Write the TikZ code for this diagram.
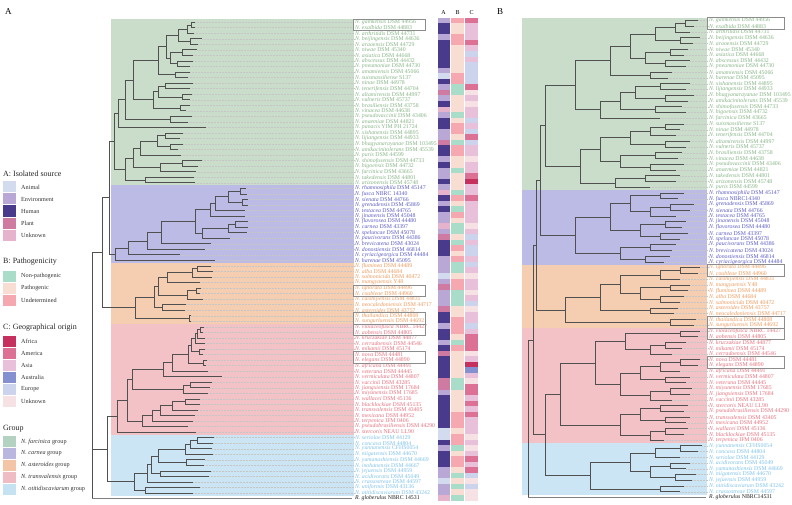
\documentclass[tikz,border=0pt]{standalone}
\usepackage{fontspec}
\setmainfont{Liberation Serif}
\usetikzlibrary{calc}
\definecolor{treec}{HTML}{505050}
\definecolor{bandG}{HTML}{CADCCA}
\definecolor{bandB}{HTML}{BBBBE6}
\definecolor{bandO}{HTML}{F5CEB2}
\definecolor{bandP}{HTML}{F3C2C6}
\definecolor{bandL}{HTML}{CBE5F4}
\definecolor{txG}{HTML}{86B486}
\definecolor{txB}{HTML}{5C5CC4}
\definecolor{txO}{HTML}{EE9A5C}
\definecolor{txP}{HTML}{E6717E}
\definecolor{txL}{HTML}{7FC2EA}
\definecolor{txK}{HTML}{222222}
\definecolor{lgG}{HTML}{B4D2C2}
\definecolor{lgB}{HTML}{B9B7E0}
\definecolor{lgO}{HTML}{F3C4A6}
\definecolor{lgP}{HTML}{F0BCC3}
\definecolor{lgL}{HTML}{C5E2F3}
\definecolor{sa}{HTML}{D3DCEF}
\definecolor{se}{HTML}{B9A8D6}
\definecolor{sh}{HTML}{4A3A8C}
\definecolor{sp}{HTML}{CF7AA0}
\definecolor{su}{HTML}{E6B3CD}
\definecolor{pn}{HTML}{A9DCC9}
\definecolor{pp}{HTML}{F8DDD2}
\definecolor{pu}{HTML}{F5A8B0}
\definecolor{gF}{HTML}{C6305F}
\definecolor{gM}{HTML}{DC7095}
\definecolor{gS}{HTML}{E8C0DA}
\definecolor{gO}{HTML}{8590D0}
\definecolor{gE}{HTML}{CCD3EC}
\definecolor{gU}{HTML}{F6E1E5}
\newcommand\cl[4]{%
  \coordinate (tmpm) at ($(#3)!0.5!(#4)$);
  \coordinate (tmpx) at (#2,0);
  \coordinate (#1) at (tmpm -| tmpx);
  \draw[br] (#3) -- (#3 -| #1) -- (#4 -| #1) -- (#4);}
\newcommand\TA[2]{\coordinate (a#1) at (#2,{22.1+(#1-1)*5.54});
  \draw[lead] (a#1) -- (354,{22.1+(#1-1)*5.54});}
\newcommand\TB[2]{\coordinate (b#1) at (#2,{20.5+(#1-1)*5.747});
  \draw[lead] (b#1) -- (708,{20.5+(#1-1)*5.747});}
\newcommand\LA[4]{\node[lab,text=#2] (la#1) at (355,{22.1+(#1-1)*5.54}) {\textit{#3} #4};}
\newcommand\LB[4]{\node[lab,text=#2] (lb#1) at (709,{20.5+(#1-1)*5.747}) {\textit{#3} #4};}
\newcommand\BoxA[1]{\draw[pairbox] (353.5,{22.1+(#1-1)*5.54-3}) rectangle (425,{22.1+#1*5.54+3});}
\newcommand\BoxB[1]{\draw[pairbox] (707.5,{20.5+(#1-1)*5.747-3}) rectangle (784,{20.5+#1*5.747+3});}
\newcommand\LegItem[3]{\fill[#1] (3,{#2-5.5}) rectangle (16,{#2+5.5});
  \node[legtext] at (21,#2) {#3};}
\begin{document}
\begin{tikzpicture}[x=1pt,y=-1pt,
  br/.style={draw=treec,line width=0.6pt},
  lead/.style={draw=white!55!gray,line width=0.3pt,dash pattern=on 0.5pt off 1pt},
  lab/.style={anchor=west,inner sep=0pt,font=\fontsize{5.8}{5.8}\selectfont},
  pairbox/.style={draw=gray!90,line width=0.5pt},
  legtext/.style={anchor=west,inner sep=0pt,font=\fontsize{6.2}{7}\selectfont,text=black!80},
  legtitle/.style={anchor=west,inner sep=0pt,font=\fontsize{8}{9}\selectfont,text=black!85},
  panel/.style={anchor=west,inner sep=0pt,font=\fontsize{9}{10}\selectfont}]
\useasboundingbox (0,0) rectangle (792,505);
\fill[white] (0,0) rectangle (792,505);
% panel letters
\node[panel] (pA) at (5,12) {A};
\node[panel] (pB) at (497,12) {B};
% ---------------- legend
\node[legtitle] (t1) at (3,174) {A: Isolated source};
\LegItem{sa}{187}{Animal}
\LegItem{se}{199}{Environment}
\LegItem{sh}{211}{Human}
\LegItem{sp}{223}{Plant}
\LegItem{su}{235}{Unknown}
\node[legtitle] (t2) at (3,262) {B: Pathogenicity};
\LegItem{pn}{276.5}{Non-pathogenic}
\LegItem{pp}{288.5}{Pathogenic}
\LegItem{pu}{300.5}{Undetermined}
\node[legtitle] (t3) at (3,328) {C: Geographical origin};
\LegItem{gF}{341.5}{Africa}
\LegItem{gM}{353.5}{America}
\LegItem{gS}{365.5}{Asia}
\LegItem{gO}{377.5}{Australia}
\LegItem{gE}{389.5}{Europe}
\LegItem{gU}{401.5}{Unknown}
\node[legtitle] (t4) at (3,429) {Group};
\LegItem{lgG}{441.5}{\textit{N. farcinica} group}
\LegItem{lgB}{453.5}{\textit{N. carnea} group}
\LegItem{lgO}{465.5}{\textit{N. asteroides} group}
\LegItem{lgP}{477.5}{\textit{N. transvalensis} group}
\LegItem{lgL}{489.5}{\textit{N. otitidiscaviarum} group}
% ---------------- bands A
\fill[bandG] (111,19.3) rectangle (354,185.5);
\fill[bandB] (111,185.5) rectangle (354,263.1);
\fill[bandO] (111,263.1) rectangle (354,324);
\fill[bandP] (111,324) rectangle (354,434.8);
\fill[bandL] (111,434.8) rectangle (354,495.8);
% ---------------- bands B
\fill[bandG] (522,17.6) rectangle (707,190.0);
\fill[bandB] (522,190.0) rectangle (707,264.7);
\fill[bandO] (522,264.7) rectangle (707,327.9);
\fill[bandP] (522,327.9) rectangle (707,442.9);
\fill[bandL] (522,442.9) rectangle (707,494.6);
% ---------------- tips A
\foreach \r/\x in {1/195,2/195,3/194,4/202,5/198,6/197,7/193,8/193,9/190,10/190,11/188,12/193,13/190,14/192,15/190,16/190,17/186,18/192,19/188,20/206,
 21/183,22/180,23/183,24/178,25/181,26/202,27/198,28/196,29/194,30/195,
 31/246,32/247,33/248,34/248,35/245,36/245,37/248,38/248,39/247,40/230,41/211,42/205,43/180,44/215,
 45/211,46/213,47/212,48/200,49/201,50/200,51/203,52/186,53/185,54/191,55/191,
 56/204,57/203,58/205,59/205,60/205,61/203,62/207,63/206,64/208,65/222,66/212,67/210,68/208,69/200,70/200,71/198,72/195,73/193,74/188,75/196,
 76/214,77/213,78/212,79/213,80/205,81/204,82/211,83/209,84/193,85/200,86/193}{\TA{\r}{\x}}
\coordinate (a87) at (352,498.5);
% tree A: farcinica group
\cl{Ag1}{191}{a1}{a2}\cl{Ag2}{187}{Ag1}{a3}\cl{Ag3}{190}{a4}{a5}\cl{Ag4}{178}{Ag2}{Ag3}
\cl{Ag5}{182}{a6}{a7}\cl{Ag6}{177}{a8}{a9}\cl{Ag7}{170}{Ag5}{Ag6}\cl{Ag8}{166}{Ag4}{Ag7}
\cl{Ag9}{175}{a10}{a11}\cl{Ag10}{158}{Ag8}{Ag9}
\cl{Ag11}{165}{a12}{a13}\cl{Ag12}{182}{a14}{a15}\cl{Ag13}{158}{Ag11}{Ag12}
\cl{Ag14}{180}{a16}{a17}\cl{Ag15}{153}{Ag13}{Ag14}\cl{Ag16}{133}{Ag10}{Ag15}
\cl{Ag17}{170}{a18}{a19}\cl{Ag18}{125}{Ag16}{Ag17}\cl{Ag19}{118}{Ag18}{a20}
\cl{Ag20}{165}{a21}{a22}\cl{Ag21}{170}{a23}{a24}\cl{Ag22}{157}{Ag20}{Ag21}\cl{Ag23}{140}{Ag22}{a25}
\cl{Ag24}{182}{a26}{a27}\cl{Ag25}{160}{Ag24}{a28}\cl{Ag26}{133}{Ag23}{Ag25}
\cl{Ag27}{145}{a29}{a30}\cl{Ag28}{125}{Ag26}{Ag27}
\cl{AG}{114}{Ag19}{Ag28}
% carnea group
\cl{Ab1}{240}{a31}{a32}\cl{Ab2}{242}{a33}{a34}\cl{Ab3}{228}{Ab1}{Ab2}\cl{Ab4}{215}{Ab3}{a35}
\cl{Ab5}{210}{Ab4}{a36}\cl{Ab6}{235}{a37}{a38}\cl{Ab7}{228}{Ab6}{a39}\cl{Ab8}{202}{Ab7}{a40}
\cl{Ab9}{195}{Ab5}{Ab8}\cl{Ab10}{161}{Ab9}{a41}\cl{Ab11}{147}{Ab10}{a42}\cl{Ab12}{128}{Ab11}{a43}
\cl{AB}{115}{Ab12}{a44}
% asteroides group
\cl{Ao1}{197}{a45}{a46}\cl{Ao2}{192}{Ao1}{a47}\cl{Ao3}{167}{Ao2}{a48}
\cl{Ao4}{196}{a49}{a50}\cl{Ao5}{187}{Ao4}{a51}\cl{Ao6}{158}{Ao3}{Ao5}
\cl{Ao7}{162}{a52}{a53}\cl{Ao8}{154}{Ao6}{Ao7}\cl{Ao9}{189}{a54}{a55}\cl{AO}{135}{Ao8}{Ao9}
% transvalensis group
\cl{Ap1}{200}{a56}{a57}\cl{Ap2}{197}{Ap1}{a58}\cl{Ap3}{195}{Ap2}{a59}\cl{Ap4}{199}{a60}{a61}
\cl{Ap5}{191}{Ap3}{Ap4}\cl{Ap6}{203}{a62}{a63}\cl{Ap7}{188}{Ap5}{Ap6}\cl{Ap8}{172}{Ap7}{a64}
\cl{Ap9}{163}{Ap8}{a65}\cl{Ap10}{190}{a66}{a67}\cl{Ap11}{183}{Ap10}{a68}\cl{Ap12}{132}{Ap9}{Ap11}
\cl{Ap13}{185}{a69}{a70}\cl{Ap14}{172}{Ap13}{a71}\cl{Ap15}{160}{Ap14}{a72}\cl{Ap16}{152}{Ap15}{a73}
\cl{Ap17}{142}{Ap16}{a74}\cl{Ap18}{127}{Ap12}{Ap17}\cl{AP}{117}{Ap18}{a75}
% otitidiscaviarum group
\cl{Al1}{197}{a76}{a77}\cl{Al2}{190}{Al1}{a78}\cl{Al3}{185}{Al2}{a79}\cl{Al4}{186}{a80}{a81}
\cl{Al5}{158}{Al3}{Al4}\cl{Al6}{160}{a82}{a83}\cl{Al7}{151}{Al5}{Al6}\cl{Al8}{147}{Al7}{a84}
\cl{Al9}{145}{a85}{a86}\cl{AL}{134}{Al8}{Al9}
% backbone A
\cl{AGB}{109}{AG}{AB}\cl{AUP}{102}{AGB}{AO}\cl{APL}{107}{AP}{AL}
\coordinate (AR) at (92,0);
\draw[br] (AUP) -- (AUP -| AR) -- (a87 -| AR);
\draw[br] (APL) -- (APL -| AR);
\draw[draw=gray,line width=1pt] (a87 -| AR) -- (a87);
% ---------------- tips B
\foreach \r/\x in {1/698,2/694,3/690,4/700,5/693,6/688,7/684,8/690,9/686,10/672,11/668,12/690,13/686,14/694,15/688,16/682,17/686,18/660,19/684,20/680,21/676,22/690,23/686,24/682,25/678,26/684,27/676,28/680,29/676,30/650,
 31/684,32/678,33/694,34/690,35/676,36/686,37/682,38/688,39/680,40/676,41/672,42/670,43/664,
 44/700,45/698,46/680,47/690,48/688,49/684,50/680,51/678,52/674,53/696,54/694,
 55/700,56/698,57/686,58/682,59/672,60/700,61/698,62/680,63/690,64/686,65/692,66/690,67/672,68/688,69/684,70/690,71/686,72/688,73/684,74/664,
 75/702,76/698,77/680,78/690,79/686,80/696,81/692,82/684,83/680}{\TB{\r}{\x}}
\coordinate (b84) at (706,{20.5+83*5.747});
\cl{Bg1}{685}{b1}{b2}\cl{Bg2}{675}{Bg1}{b3}\cl{Bg3}{680}{b4}{b5}\cl{Bg4}{655}{Bg2}{Bg3}
\cl{Bg5}{670}{b6}{b7}\cl{Bg6}{665}{b8}{b9}\cl{Bg7}{645}{Bg5}{Bg6}\cl{Bg8}{630}{Bg4}{Bg7}
\cl{Bg9}{650}{b10}{b11}\cl{Bg10}{610}{Bg8}{Bg9}
\cl{Bg11}{660}{b12}{b13}\cl{Bg12}{665}{b14}{b15}\cl{Bg13}{635}{Bg11}{Bg12}\cl{Bg14}{655}{b16}{b17}
\cl{Bg15}{620}{Bg13}{Bg14}\cl{Bg16}{600}{Bg15}{b18}\cl{Bg17}{575}{Bg10}{Bg16}
\cl{Bg18}{665}{b19}{b20}\cl{Bg19}{650}{Bg18}{b21}\cl{Bg20}{665}{b22}{b23}\cl{Bg21}{630}{Bg19}{Bg20}
\cl{Bg22}{655}{b24}{b25}\cl{Bg23}{650}{b26}{b27}\cl{Bg24}{620}{Bg22}{Bg23}\cl{Bg25}{600}{Bg21}{Bg24}
\cl{Bg26}{645}{b28}{b29}\cl{Bg27}{615}{Bg26}{b30}\cl{Bg28}{580}{Bg25}{Bg27}\cl{BG}{545}{Bg17}{Bg28}
\cl{Bc1}{660}{b31}{b32}\cl{Bc2}{670}{b33}{b34}\cl{Bc3}{650}{Bc2}{b35}\cl{Bc4}{630}{Bc1}{Bc3}
\cl{Bc5}{665}{b36}{b37}\cl{Bc6}{660}{b38}{b39}\cl{Bc7}{640}{Bc5}{Bc6}\cl{Bc8}{610}{Bc4}{Bc7}
\cl{Bc9}{650}{b40}{b41}\cl{Bc10}{645}{b42}{b43}\cl{Bc11}{620}{Bc9}{Bc10}\cl{BC}{575}{Bc8}{Bc11}
\cl{Bo1}{680}{b44}{b45}\cl{Bo2}{660}{Bo1}{b46}\cl{Bo3}{670}{b47}{b48}\cl{Bo4}{660}{b49}{b50}
\cl{Bo5}{640}{Bo3}{Bo4}\cl{Bo6}{620}{Bo2}{Bo5}\cl{Bo7}{650}{b51}{b52}\cl{Bo8}{600}{Bo6}{Bo7}
\cl{Bo9}{670}{b53}{b54}\cl{BO}{565}{Bo8}{Bo9}
\cl{Bp1}{680}{b55}{b56}\cl{Bp2}{665}{b57}{b58}\cl{Bp3}{650}{Bp2}{b59}\cl{Bp4}{625}{Bp1}{Bp3}
\cl{Bp5}{680}{b60}{b61}\cl{Bp6}{660}{Bp5}{b62}\cl{Bp7}{665}{b63}{b64}\cl{Bp8}{640}{Bp6}{Bp7}
\cl{Bp9}{670}{b65}{b66}\cl{Bp10}{650}{Bp9}{b67}\cl{Bp11}{620}{Bp8}{Bp10}\cl{Bp12}{595}{Bp4}{Bp11}
\cl{Bp13}{660}{b68}{b69}\cl{Bp14}{665}{b70}{b71}\cl{Bp15}{640}{Bp13}{Bp14}\cl{Bp16}{665}{b72}{b73}
\cl{Bp17}{650}{Bp16}{b74}\cl{Bp18}{620}{Bp15}{Bp17}\cl{BP}{560}{Bp12}{Bp18}
\cl{Bl1}{680}{b75}{b76}\cl{Bl2}{655}{Bl1}{b77}\cl{Bl3}{670}{b78}{b79}\cl{Bl4}{675}{b80}{b81}
\cl{Bl5}{650}{Bl3}{Bl4}\cl{Bl6}{630}{Bl2}{Bl5}\cl{Bl7}{660}{b82}{b83}\cl{BL}{590}{Bl6}{Bl7}
\cl{BGC}{540}{BG}{BC}\cl{BGCO}{536}{BGC}{BO}\cl{BPL}{545}{BP}{BL}
\cl{BING}{533}{BGCO}{BPL}\cl{BROOT}{528}{BING}{b84}
% ---------------- labels A
\LA{1}{txG}{N. gamkensis}{DSM 44956}
\LA{2}{txG}{N. exalbida}{DSM 44883}
\LA{3}{txG}{N. arthritidis}{DSM 44731}
\LA{4}{txG}{N. beijingensis}{DSM 44636}
\LA{5}{txG}{N. araoensis}{DSM 44729}
\LA{6}{txG}{N. niwae}{DSM 45340}
\LA{7}{txG}{N. asiatica}{DSM 44668}
\LA{8}{txG}{N. abscessus}{DSM 44432}
\LA{9}{txG}{N. pneumoniae}{DSM 44730}
\LA{10}{txG}{N. amamiensis}{DSM 45066}
\LA{11}{txG}{N. suismassiliense}{S137}
\LA{12}{txG}{N. ninae}{DSM 44978}
\LA{13}{txG}{N. tenerifensis}{DSM 44704}
\LA{14}{txG}{N. altamirensis}{DSM 44997}
\LA{15}{txG}{N. vulneris}{DSM 45737}
\LA{16}{txG}{N. brasiliensis}{DSM 43758}
\LA{17}{txG}{N. vinacea}{DSM 44638}
\LA{18}{txG}{N. pseudovaccinii}{DSM 43406}
\LA{19}{txG}{N. anaemiae}{DSM 44821}
\LA{20}{txG}{N. panacis}{YIM PH 21724}
\LA{21}{txG}{N. xishanensis}{DSM 44895}
\LA{22}{txG}{N. lijiangensis}{DSM 44933}
\LA{23}{txG}{N. bhagyanarayanae}{DSM 103495}
\LA{24}{txG}{N. amikacinitolerans}{DSM 45539}
\LA{25}{txG}{N. puris}{DSM 44599}
\LA{26}{txG}{N. shimofusensis}{DSM 44733}
\LA{27}{txG}{N. higoensis}{DSM 44732}
\LA{28}{txG}{N. farcinica}{DSM 43665}
\LA{29}{txG}{N. takedensis}{DSM 44801}
\LA{30}{txG}{N. arizonensis}{DSM 45748}
\LA{31}{txB}{N. rhamnosiphila}{DSM 45147}
\LA{32}{txB}{N. fusca}{NBRC 14340}
\LA{33}{txB}{N. sienata}{DSM 44766}
\LA{34}{txB}{N. grenadensis}{DSM 45869}
\LA{35}{txB}{N. testacea}{DSM 44765}
\LA{36}{txB}{N. jinanensis}{DSM 45048}
\LA{37}{txB}{N. flavorosea}{DSM 44480}
\LA{38}{txB}{N. carnea}{DSM 43397}
\LA{39}{txB}{N. speluncae}{DSM 45078}
\LA{40}{txB}{N. paucivorans}{DSM 44386}
\LA{41}{txB}{N. brevicatena}{DSM 43024}
\LA{42}{txB}{N. donostiensis}{DSM 46814}
\LA{43}{txB}{N. cyriacigeorgica}{DSM 44484}
\LA{44}{txB}{N. harenae}{DSM 45095}
\LA{45}{txO}{N. fluminea}{DSM 44489}
\LA{46}{txO}{N. alba}{DSM 44684}
\LA{47}{txO}{N. salmonicida}{DSM 40472}
\LA{48}{txO}{N. mangyaensis}{Y48}
\LA{49}{txO}{N. ignorata}{DSM 44496}
\LA{50}{txO}{N. coubleae}{DSM 44960}
\LA{51}{txO}{N. caishijiensis}{DSM 44831}
\LA{52}{txO}{N. neocaledoniensis}{DSM 44717}
\LA{53}{txO}{N. asteroides}{DSM 43757}
\LA{54}{txO}{N. thailandica}{DSM 44808}
\LA{55}{txO}{N. sungurluensis}{DSM 44692}
\LA{56}{txP}{N. violaceofusca}{NBRC 14427}
\LA{57}{txP}{N. aobensis}{DSM 44805}
\LA{58}{txP}{N. kruczakiae}{DSM 44877}
\LA{59}{txP}{N. cerradoensis}{DSM 44546}
\LA{60}{txP}{N. mikamii}{DSM 45174}
\LA{61}{txP}{N. nova}{DSM 44481}
\LA{62}{txP}{N. elegans}{DSM 44890}
\LA{63}{txP}{N. africana}{DSM 44491}
\LA{64}{txP}{N. veterana}{DSM 44445}
\LA{65}{txP}{N. vermiculata}{DSM 44807}
\LA{66}{txP}{N. vaccinii}{DSM 43285}
\LA{67}{txP}{N. jiangxiensis}{DSM 17684}
\LA{68}{txP}{N. miyunensis}{DSM 17685}
\LA{69}{txP}{N. wallacei}{DSM 45136}
\LA{70}{txP}{N. blacklockiae}{DSM 45135}
\LA{71}{txP}{N. transvalensis}{DSM 43405}
\LA{72}{txP}{N. mexicana}{DSM 44952}
\LA{73}{txP}{N. terpenica}{IFM 0406}
\LA{74}{txP}{N. pseudobrasiliensis}{DSM 44290}
\LA{75}{txP}{N. stercoris}{NEAU LL90}
\LA{76}{txL}{N. seriolae}{DSM 44129}
\LA{77}{txL}{N. concava}{DSM 44804}
\LA{78}{txL}{N. yunnanensis}{CFHS0054}
\LA{79}{txL}{N. niigatensis}{DSM 44670}
\LA{80}{txL}{N. yamanashiensis}{DSM 44669}
\LA{81}{txL}{N. inohanensis}{DSM 44667}
\LA{82}{txL}{N. jejuensis}{DSM 44959}
\LA{83}{txL}{N. acidivorans}{DSM 45049}
\LA{84}{txL}{N. crassostreae}{DSM 44597}
\LA{85}{txL}{N. uniformis}{DSM 43136}
\LA{86}{txL}{N. otitidiscaviarum}{DSM 43242}
\node[lab,text=txK] (la87) at (355,498.5) {\textit{R. globerulus} NBRC 14531};
% ---------------- labels B
\LB{1}{txG}{N. gamkensis}{DSM 44956}
\LB{2}{txG}{N. exalbida}{DSM 44883}
\LB{3}{txG}{N. arthritidis}{DSM 44731}
\LB{4}{txG}{N. beijingensis}{DSM 44636}
\LB{5}{txG}{N. araoensis}{DSM 44729}
\LB{6}{txG}{N. niwae}{DSM 45340}
\LB{7}{txG}{N. asiatica}{DSM 44668}
\LB{8}{txG}{N. abscessus}{DSM 44432}
\LB{9}{txG}{N. pneumoniae}{DSM 44730}
\LB{10}{txG}{N. amamiensis}{DSM 45066}
\LB{11}{txG}{N. harenae}{DSM 45095}
\LB{12}{txG}{N. xishanensis}{DSM 44895}
\LB{13}{txG}{N. lijiangensis}{DSM 44933}
\LB{14}{txG}{N. bhagyanarayanae}{DSM 103495}
\LB{15}{txG}{N. amikacinitolerans}{DSM 45539}
\LB{16}{txG}{N. shimofusensis}{DSM 44733}
\LB{17}{txG}{N. higoensis}{DSM 44732}
\LB{18}{txG}{N. farcinica}{DSM 43665}
\LB{19}{txG}{N. suismassiliense}{S137}
\LB{20}{txG}{N. ninae}{DSM 44978}
\LB{21}{txG}{N. tenerifensis}{DSM 44704}
\LB{22}{txG}{N. altamirensis}{DSM 44997}
\LB{23}{txG}{N. vulneris}{DSM 45737}
\LB{24}{txG}{N. brasiliensis}{DSM 43758}
\LB{25}{txG}{N. vinacea}{DSM 44638}
\LB{26}{txG}{N. pseudovaccinii}{DSM 43406}
\LB{27}{txG}{N. anaemiae}{DSM 44821}
\LB{28}{txG}{N. takedensis}{DSM 44801}
\LB{29}{txG}{N. arizonensis}{DSM 45748}
\LB{30}{txG}{N. puris}{DSM 44599}
\LB{31}{txB}{N. rhamnosiphila}{DSM 45147}
\LB{32}{txB}{N. fusca}{NBRC14340}
\LB{33}{txB}{N. grenadensis}{DSM 45869}
\LB{34}{txB}{N. sienata}{DSM 44766}
\LB{35}{txB}{N. testacea}{DSM 44765}
\LB{36}{txB}{N. jinanensis}{DSM 45048}
\LB{37}{txB}{N. flavorosea}{DSM 44480}
\LB{38}{txB}{N. carnea}{DSM 43397}
\LB{39}{txB}{N. speluncae}{DSM 45078}
\LB{40}{txB}{N. paucivorans}{DSM 44386}
\LB{41}{txB}{N. brevicatena}{DSM 43024}
\LB{42}{txB}{N. donostiensis}{DSM 46814}
\LB{43}{txB}{N. cyriacigeorgica}{DSM 44484}
\LB{44}{txO}{N. ignorata}{DSM 44496}
\LB{45}{txO}{N. coubleae}{DSM 44960}
\LB{46}{txO}{N. caishijiensis}{DSM 44831}
\LB{47}{txO}{N. mangyaensis}{Y48}
\LB{48}{txO}{N. fluminea}{DSM 44489}
\LB{49}{txO}{N. alba}{DSM 44684}
\LB{50}{txO}{N. salmonicida}{DSM 40472}
\LB{51}{txO}{N. asteroides}{DSM 43757}
\LB{52}{txO}{N. neocaledoniensis}{DSM 44717}
\LB{53}{txO}{N. thailandica}{DSM 44808}
\LB{54}{txO}{N. sungurluensis}{DSM 44692}
\LB{55}{txP}{N. violaceofusca}{NBRC 14427}
\LB{56}{txP}{N. aobensis}{DSM 44805}
\LB{57}{txP}{N. kruczakiae}{DSM 44877}
\LB{58}{txP}{N. mikamii}{DSM 45174}
\LB{59}{txP}{N. cerradoensis}{DSM 44546}
\LB{60}{txP}{N. nova}{DSM 44481}
\LB{61}{txP}{N. elegans}{DSM 44890}
\LB{62}{txP}{N. africana}{DSM 44491}
\LB{63}{txP}{N. vermiculata}{DSM 44807}
\LB{64}{txP}{N. veterana}{DSM 44445}
\LB{65}{txP}{N. miyunensis}{DSM 17685}
\LB{66}{txP}{N. jiangxiensis}{DSM 17684}
\LB{67}{txP}{N. vaccinii}{DSM 43285}
\LB{68}{txP}{N. stercoris}{NEAU LL90}
\LB{69}{txP}{N. pseudobrasiliensis}{DSM 44290}
\LB{70}{txP}{N. transvalensis}{DSM 43405}
\LB{71}{txP}{N. mexicana}{DSM 44952}
\LB{72}{txP}{N. wallacei}{DSM 45136}
\LB{73}{txP}{N. blacklockiae}{DSM 45135}
\LB{74}{txP}{N. terpenica}{IFM 0406}
\LB{75}{txL}{N. yunnanensis}{CFHS0054}
\LB{76}{txL}{N. concava}{DSM 44804}
\LB{77}{txL}{N. seriolae}{DSM 44129}
\LB{78}{txL}{N. acidivorans}{DSM 45049}
\LB{79}{txL}{N. yamanashiensis}{DSM 44669}
\LB{80}{txL}{N. niigatensis}{DSM 44670}
\LB{81}{txL}{N. jejuensis}{DSM 44959}
\LB{82}{txL}{N. otitidiscaviarum}{DSM 43242}
\LB{83}{txL}{N. crassostreae}{DSM 44597}
\LB{84}{txK}{R. globerulus}{NBRC14531}
\draw[draw=gray,line width=1pt] (BROOT |- b84) -- (b84);
% ---------------- boxes
\BoxA{1}\BoxA{49}\BoxA{54}\BoxA{56}\BoxA{61}
\BoxB{1}\BoxB{44}\BoxB{53}\BoxB{55}\BoxB{60}
% ---------------- heatmap
\node[font=\fontsize{6}{6}\selectfont,inner sep=0pt] (hA) at (443.5,13) {A};
\node[font=\fontsize{6}{6}\selectfont,inner sep=0pt] (hB) at (457.5,13) {B};
\node[font=\fontsize{6}{6}\selectfont,inner sep=0pt] (hC) at (471.5,13) {C};
\foreach \i/\s/\p/\g in {1/e/u/M,2/h/p/S,3/h/p/S,4/e/u/S,5/h/u/M,6/h/p/S,7/h/p/E,8/h/p/S,9/h/p/E,10/e/p/E,
 11/a/u/E,12/h/u/E,13/e/n/M,14/p/n/U,15/e/p/S,16/h/p/U,17/u/p/S,18/e/n/S,19/h/p/E,20/h/u/S,
 21/e/u/E,22/e/p/M,23/p/n/E,24/h/u/S,25/h/u/S,26/e/p/U,27/h/p/S,28/e/n/S,29/e/p/M,30/h/p/F,
 31/e/p/S,32/u/n/S,33/h/u/M,34/e/p/S,35/h/n/S,36/e/u/S,37/e/p/S,38/u/n/U,39/e/n/S,40/p/p/E,
 41/h/n/S,42/h/u/E,43/h/p/E,44/e/u/S,45/e/n/E,46/e/n/S,47/a/p/U,48/e/u/S,49/p/u/S,50/e/n/U,
 51/e/n/S,52/e/n/E,53/p/p/U,54/h/p/S,55/h/u/S,56/e/u/E,57/h/u/S,58/h/p/M,59/e/n/M,60/h/u/M,
 61/p/p/U,62/h/p/S,63/h/p/F,64/h/p/O,65/h/p/S,66/p/n/U,67/p/n/M,68/e/p/M,69/h/p/S,70/h/p/M,
 71/h/p/S,72/h/u/M,73/h/u/S,74/h/u/S,75/a/p/S,76/a/u/U,77/h/u/S,78/e/n/U,79/h/p/S,80/h/u/M,
 81/h/u/S,82/e/p/M,83/e/n/E,84/a/p/U,85/e/n/E,86/e/p/U,87/u/n/U}{
  \pgfmathsetmacro\yt{17.725+(\i-1)*5.55}
  \pgfmathsetmacro\yb{\yt+5.56}
  \fill[fill=s\s] (437.5,\yt) rectangle (450,\yb);
  \fill[fill=p\p] (451,\yt) rectangle (464,\yb);
  \fill[fill=g\g] (465,\yt) rectangle (478,\yb);
}
\end{tikzpicture}
\end{document}
